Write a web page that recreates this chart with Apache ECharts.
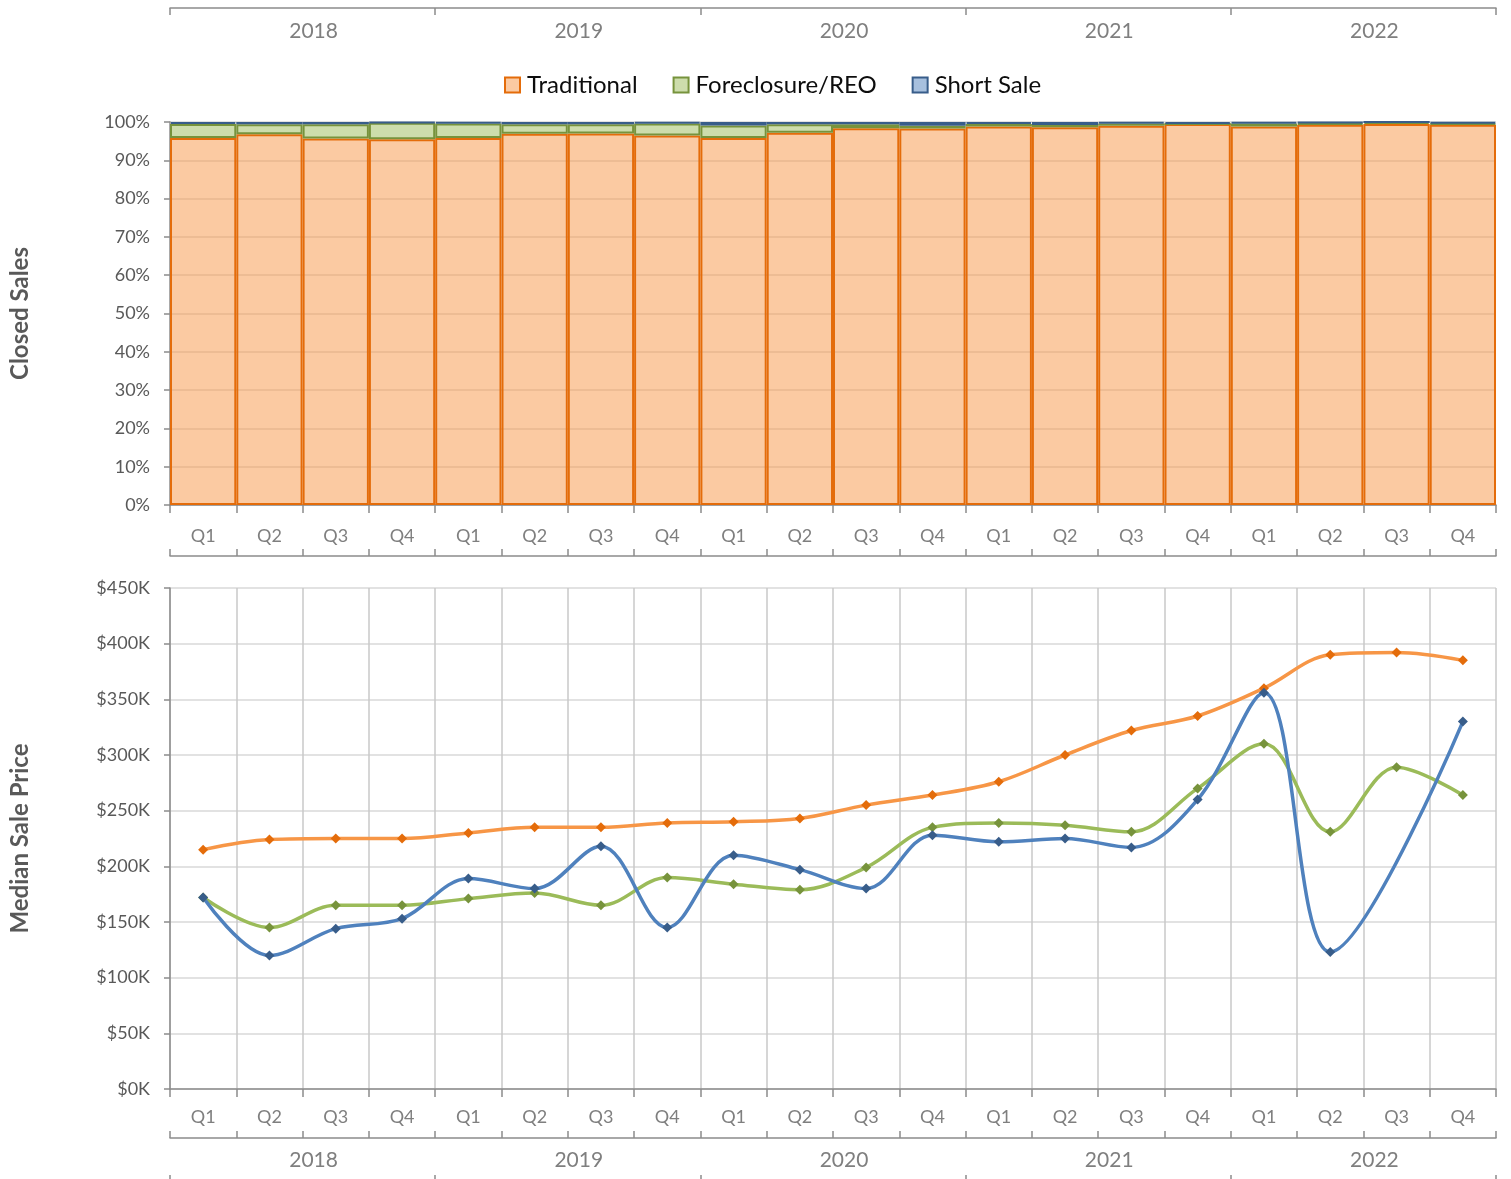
<!DOCTYPE html>
<html>
<head>
<meta charset="utf-8">
<script src="https://cdn.jsdelivr.net/npm/echarts@6/dist/echarts.min.js"></script>
<style>
html,body{margin:0;padding:0;background:#fff;}
#chart{width:1511px;height:1179px;}
</style>
</head>
<body>
<div id="chart"></div>
<script>
// ---- data ----
const quarters = ['Q1','Q2','Q3','Q4','Q1','Q2','Q3','Q4','Q1','Q2','Q3','Q4','Q1','Q2','Q3','Q4','Q1','Q2','Q3','Q4'];
const years = ['2018','2019','2020','2021','2022'];
const seriesNames = ['Traditional','Foreclosure/REO','Short Sale'];
// share of closed sales (%)
const traditionalShare = [95.8, 96.8, 95.7, 95.5, 95.8, 96.9, 97.0, 96.5, 95.8, 97.2, 98.4, 98.3, 98.8, 98.6, 99.0, 99.5, 98.8, 99.3, 99.5, 99.3];
const foreclosureShare = [3.7, 2.6, 3.7, 4.3, 3.8, 2.5, 2.4, 3.1, 3.3, 2.2, 1.0, 0.7, 0.7, 0.6, 0.6, 0.0, 0.8, 0.4, 0.5, 0.3];
const shortSaleShare   = [0.5, 0.6, 0.6, 0.2, 0.4, 0.6, 0.6, 0.4, 0.9, 0.6, 0.6, 1.0, 0.5, 0.8, 0.4, 0.5, 0.4, 0.3, 0.0, 0.4];
// median sale price ($K)
const traditionalPrice = [215, 224, 225, 225, 230, 235, 235, 239, 240, 243, 255, 264, 276, 300, 322, 335, 360, 390, 392, 385];
const foreclosurePrice = [172, 145, 165, 165, 171, 176, 165, 190, 184, 179, 199, 235, 239, 237, 231, 270, 310, 231, 289, 264];
const shortSalePrice   = [172, 120, 144, 153, 189, 180, 218, 145, 210, 197, 180, 228, 222, 225, 217, 260, 356, 123, null, 330];

// ---- styles ----
const FONT = 'Lato';
const AXIS_C = '#8c8c8c';
const GRID_C = '#d9d9d9';
const fills = ['rgba(247,150,70,0.5)','rgba(155,187,89,0.5)','rgba(79,129,189,0.5)'];
const borders = ['#E46C0A','#77933C','#385D8A'];
const lineColors = ['#F79646','#9BBB59','#4F81BD'];

const chart = echarts.init(document.getElementById('chart'), null, {renderer:'canvas'});

const tickStyle = {color:AXIS_C, width:1.5};
function quarterAxis(gridIndex, opts) {
  return Object.assign({
    type:'category', gridIndex, data: quarters, position:'bottom', boundaryGap:true,
    axisLine:{show:true, lineStyle:tickStyle},
    axisTick:{show:true, interval:0, length:8, lineStyle:tickStyle},
    axisLabel:{show:true, interval:0, color:'#7f7f7f', fontFamily:FONT, fontSize:18, margin:20},
    splitLine:{show:false}
  }, opts);
}
function yearAxis(gridIndex, opts) {
  return Object.assign({
    type:'category', gridIndex, data: years, boundaryGap:true,
    axisLine:{show:true, lineStyle:tickStyle},
    axisTick:{show:true, interval:0, length:7, lineStyle:tickStyle},
    splitLine:{show:false}
  }, opts);
}
const yearLabel = (margin) => ({show:true, inside:true, interval:0, margin, padding:[0,0,0,22],
  color:'#7f7f7f', fontFamily:FONT, fontSize:21});

const option = {
  animation:false,
  backgroundColor:'#fff',
  legend:{
    data: seriesNames,
    left: 499, top: 68,
    itemWidth:15, itemHeight:15, itemGap:35,
    icon:'rect',
    textStyle:{fontFamily:FONT, fontSize:24, color:'#0d0d0d', padding:[0,0,0,2]}
  },
  grid:[
    {left:169, top:122, width:1327, height:383},
    {left:169, top:588, width:1327, height:501}
  ],
  xAxis:[
    quarterAxis(0, {axisLabel:{interval:0, color:'#7f7f7f', fontFamily:FONT, fontSize:18, margin:22}}),
    quarterAxis(0, {offset:51, axisTick:{show:true, inside:true, interval:0, length:7, lineStyle:tickStyle}, axisLabel:{show:false}}),
    yearAxis(0, {position:'top', offset:114,
      axisTick:{show:true, inside:true, interval:0, length:7, lineStyle:tickStyle},
      axisLabel:yearLabel(13)}),
    quarterAxis(1, {axisLabel:{interval:0, color:'#7f7f7f', fontFamily:FONT, fontSize:18, margin:19},
      splitLine:{show:true, interval:0, lineStyle:{color:'#c8c8c8', width:1.5}}}),
    quarterAxis(1, {offset:49, axisTick:{show:true, inside:true, interval:0, length:7, lineStyle:tickStyle}, axisLabel:{show:false}}),
    yearAxis(1, {position:'bottom', offset:86, axisLine:{show:false},
      axisTick:{show:true, inside:false, interval:0, length:8, lineStyle:tickStyle},
      axisLabel:yearLabel(4)})
  ],
  yAxis:[
    {type:'value', gridIndex:0, min:0, max:100, interval:10,
      name:'Closed Sales', nameLocation:'middle', nameRotate:90, nameGap:138,
      nameTextStyle:{fontFamily:FONT, fontWeight:'bold', fontSize:24, color:'#595959'},
      axisLine:{show:true, lineStyle:tickStyle},
      axisTick:{show:true, length:6, lineStyle:tickStyle},
      axisLabel:{formatter:'{value}%', color:'#595959', fontFamily:FONT, fontSize:18, margin:20},
      splitLine:{show:true, lineStyle:{color:GRID_C, width:1.5}}},
    {type:'value', gridIndex:1, min:0, max:450, interval:50,
      name:'Median Sale Price', nameLocation:'middle', nameRotate:90, nameGap:138,
      nameTextStyle:{fontFamily:FONT, fontWeight:'bold', fontSize:24, color:'#595959'},
      axisLine:{show:true, lineStyle:tickStyle},
      axisTick:{show:true, length:6, lineStyle:tickStyle},
      axisLabel:{formatter:v => '$' + v + 'K', color:'#595959', fontFamily:FONT, fontSize:18, margin:20},
      splitLine:{show:true, lineStyle:{color:GRID_C, width:1.5}}}
  ],
  series:[
    {name:seriesNames[0], type:'bar', stack:'share', xAxisIndex:0, yAxisIndex:0, data:traditionalShare,
      barCategoryGap:'0%', itemStyle:{color:fills[0], borderColor:borders[0], borderWidth:2}},
    {name:seriesNames[1], type:'bar', stack:'share', xAxisIndex:0, yAxisIndex:0, data:foreclosureShare,
      barCategoryGap:'0%', itemStyle:{color:fills[1], borderColor:borders[1], borderWidth:2}},
    {name:seriesNames[2], type:'bar', stack:'share', xAxisIndex:0, yAxisIndex:0, data:shortSaleShare,
      barCategoryGap:'0%', itemStyle:{color:fills[2], borderColor:borders[2], borderWidth:2}},
    {name:'Traditional Price', type:'line', xAxisIndex:3, yAxisIndex:1, data:traditionalPrice,
      smooth:0.35, symbol:'diamond', symbolSize:10,
      lineStyle:{color:lineColors[0], width:3.5}, itemStyle:{color:borders[0]}},
    {name:'Foreclosure Price', type:'line', xAxisIndex:3, yAxisIndex:1, data:foreclosurePrice,
      smooth:0.35, symbol:'diamond', symbolSize:10,
      lineStyle:{color:lineColors[1], width:3.5}, itemStyle:{color:borders[1]}},
    {name:'Short Sale Price', type:'line', xAxisIndex:3, yAxisIndex:1, data:shortSalePrice,
      smooth:0.35, connectNulls:true, symbol:'diamond', symbolSize:10,
      lineStyle:{color:lineColors[2], width:3.5}, itemStyle:{color:borders[2]}}
  ]
};
chart.setOption(option);
</script>
</body>
</html>
